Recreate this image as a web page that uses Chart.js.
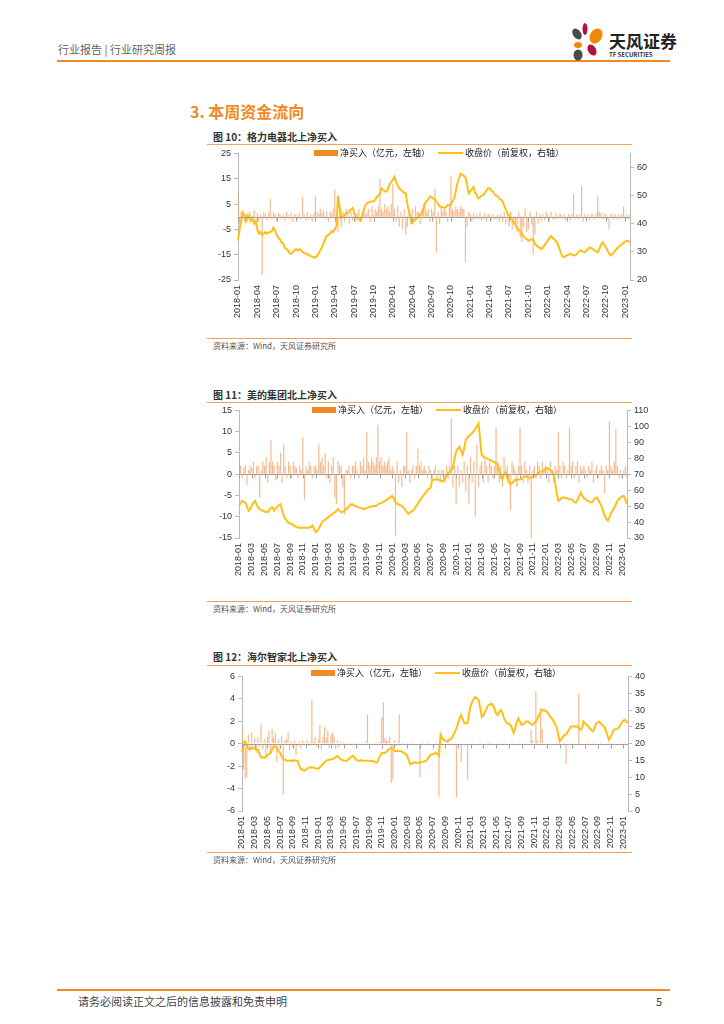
<!DOCTYPE html>
<html><head><meta charset="utf-8">
<script src="https://cdn.jsdelivr.net/npm/chart.js@4"></script>
<style>
html,body{margin:0;padding:0;background:#fff;}
body{width:724px;height:1024px;position:relative;overflow:hidden;font-family:"Noto Sans CJK SC","Noto Sans",sans-serif;}
.abs{position:absolute;white-space:nowrap;}
.hline{position:absolute;height:0;}
.cap{font-size:10px;font-weight:bold;color:#333;}
.src{font-size:8px;color:#555;}
.leg{font-size:9px;color:#222;}
.cw{position:absolute;}
</style></head><body>
<div class="abs" style="left:58px;top:41px;font-size:11px;color:#666;">行业报告 | 行业研究周报</div>
<div class="hline" style="left:57px;top:60px;width:613px;border-top:2px solid #F08A24;"></div>
<svg class="abs" style="left:568px;top:20px" width="40" height="42" viewBox="0 0 40 42">
<ellipse cx="9" cy="14" rx="4" ry="6" fill="#4a4a4a" transform="rotate(-35 9 14)"/>
<ellipse cx="17" cy="9" rx="2.5" ry="6" fill="#B0123B"/>
<ellipse cx="28" cy="16" rx="6" ry="8" fill="#F08A00" transform="rotate(30 28 16)"/>
<ellipse cx="10" cy="25" rx="4" ry="3" fill="#F08A00"/>
<ellipse cx="24" cy="30" rx="4" ry="6" fill="#B0123B" transform="rotate(-30 24 30)"/>
<ellipse cx="10" cy="35" rx="4.5" ry="5.5" fill="#4a4a4a"/>
</svg>
<div class="abs" style="left:609px;top:28px;font-size:17px;font-weight:bold;color:#222;letter-spacing:0px;">天风证券</div>
<div class="abs" style="left:609px;top:50px;font-size:6px;font-weight:bold;color:#333;">TF SECURITIES</div>

<div class="abs" style="left:190px;top:99px;font-size:16px;color:#F08A24;font-weight:bold;">3. 本周资金流向</div>

<div class="abs cap" style="left:213px;top:129px;">图 10：格力电器北上净买入</div>
<div class="hline" style="left:207px;top:144px;width:425px;border-top:1px solid #F5A05A;"></div>
<div class="cw" style="left:205px;top:145px;width:455px;height:177px;"><canvas id="c1" width="455" height="177"></canvas></div>
<div class="hline" style="left:207px;top:338px;width:425px;border-top:1px solid #F5A05A;"></div>
<div class="abs src" style="left:213px;top:340px;">资料来源：Wind，天风证券研究所</div>

<div class="abs cap" style="left:213px;top:387px;">图 11：美的集团北上净买入</div>
<div class="hline" style="left:207px;top:402px;width:425px;border-top:1px solid #F5A05A;"></div>
<div class="cw" style="left:206px;top:402px;width:451px;height:178px;"><canvas id="c2" width="451" height="178"></canvas></div>
<div class="hline" style="left:207px;top:601px;width:425px;border-top:1px solid #F5A05A;"></div>
<div class="abs src" style="left:213px;top:603px;">资料来源：Wind，天风证券研究所</div>

<div class="abs cap" style="left:213px;top:649px;">图 12：海尔智家北上净买入</div>
<div class="hline" style="left:207px;top:665px;width:425px;border-top:1px solid #F5A05A;"></div>
<div class="cw" style="left:209px;top:668px;width:449px;height:185px;"><canvas id="c3" width="449" height="185"></canvas></div>
<div class="hline" style="left:207px;top:852px;width:425px;border-top:1px solid #F5A05A;"></div>
<div class="abs src" style="left:213px;top:854px;">资料来源：Wind，天风证券研究所</div>

<div class="hline" style="left:57px;top:989px;width:613px;border-top:2px solid #F08A24;"></div>
<div class="abs" style="left:78px;top:993px;font-size:11px;color:#444;">请务必阅读正文之后的信息披露和免责申明</div>
<div class="abs" style="left:656px;top:993px;font-size:11px;color:#444;">5</div>

<div id="legs"></div>
<script>
// ---- data (4 samples per month, 2018-01 .. 2023-01) ----
const startYear = 2018, monthCount = 61, perMonth = 4;
const barLabel = "净买入（亿元，左轴）";
const lineLabel = "收盘价（前复权，右轴）";

const greeNet = [
 9,-3,2,1.5, -2,1,-1.5,2, 1,-1,2.5,-0.5, 1.5,-2,1,-23, 2,1,-1.5,1.5, 7,-1,2,1,
 -2,1.5,1,-1, 1,-1.5,2,1, -1,1.5,-2,1, 1,-1,1.5,-1, 8,1,-1.5,2, -1,1,-2,1.5,
 8,2,1,3, 1.5,2.5,-1,2, -2,2,1.5,3, 10.5,-3,-6,4, -4,2,-2,3, 1,-3,2,-1.5,
 2,-2,1.5,3, -1.5,2,3,1, 2,3,-2,4, 1,3,2,4, 15,3,2,5, 3,4,2,5,
 13,3,-2,4, -4,2,-5,3, -7,-4,2,-3, 3,-2,4,2, 2,-3,3,5, 4,2,3,-2,
 3,2,11,-14, 2,-3,4,2, 3,2,-2,4, 16,3,2,4, 3,2,4,3, 3,-18,-4,2,
 1,-2,1.5,-1, 1,-1,2,-1.5, -1,1.5,-2,1, 1,-1.5,1,-1, -1,1,-2,1, -2,2,-3,1,
 -4,2,-5,-3, -3,-6,2,-8, -10,-4,3,-6, -5,2,-3,-15, -7,2,-3,1, -2,1,-1.5,2,
 1,-2,2,-1, -1,1.5,-1,1, 1,-1,1,-1.5, -1,1,-1.5,1, 9,-1,1,-1, 1,12,-2,1,
 -1,1,-1.5,1, 1,-1,1.5,8, 2,1.5,-1,1, 1,-1,-5,1, 1,-1,1,-1, 1,-1,1,4,
 -1,1,-1,1];
const greeClose = [
 34,38,41,44, 43,41,43,42, 41,42,40,41, 38,36.5,37,36, 36.5,37,36.5,37, 37,37.5,38.6,37.5,
 36,35,34.5,33.4, 33,31.5,31,30.5, 29.5,29.3,30,30.5, 31,30.5,31,30.5, 30,29.5,29.5,29, 29,28.5,28.3,28,
 28,28.5,29.5,30.5, 31.5,33,34.5,35.7, 36,36.5,37.4,37, 38,39,50,46, 42,42.5,43,43.8, 43.8,44.5,45,45.6,
 44,42.7,42,41.5, 41,43,45,46.5, 47.3,47.5,47.8,47.9, 47.9,48.5,49.5,50, 50.8,52.6,52,51.5, 51.4,52.5,54,55,
 55.5,56.6,55,53.5, 52.6,52,51.5,51, 50.8,47,44.4,42, 40.3,41,41.5,42, 42.5,43.2,43.8,45.5, 47.3,48,48.8,49.7,
 49.5,49,48.6,47.8, 47,46.2,46,45.8, 45.6,46,46.7,46.5, 47,48,49,51.5, 54.3,56,57.8,57.5, 57,56.6,54,50.8,
 51.5,52.3,53,51, 50,49,49.5,50, 50.2,51,51.8,52.6, 52.6,51.8,51.4,50.5, 50,49.7,49,48.5, 47.9,46.5,45,43.8,
 43,42,41.2,40.5, 39.5,38.6,37.8,37, 36.3,35.5,35,34.5, 34,34.2,34.4,34.5, 33,32.2,31.8,31.5, 31,31.5,32.3,33.2,
 34,35,35.7,35, 34.5,34,33,31.5, 29.9,28.5,28.1,28.5, 28.8,29,29.3,29, 28.8,28.7,29.2,29.8, 30.5,30.3,30,29.9,
 30.5,31,31.6,31.3, 31,30.5,30.2,29.9, 31,32.5,33.4,32.5, 31.6,30.5,29.5,28.7, 29.2,29.8,30.5,31.2, 31.8,32.2,32.8,33.2,
 33.6,34,33.8,33.4];

const mideaNet = [
 4,2,-1,1.5, 2,-2.5,1,2, 1.5,3,-1,2, 2,-5.5,1,3, 2,4,-2,3, 8,3,2,-1.5,
 3,2,5,-2, 7,2,-1,3, 2,-1,3,2, 1.5,-1,2,1, 8.7,-6,2,1, 3,2,-1,2,
 2,1,7,3, 4,2,5,-1, 3,-2,2,4, -5.5,-7,3,2, 2,-3,-9.5,1, 1,2,-1,2,
 2,3,1,-1, 3,2,4,1, 10,3,2,4, 3,2,4,11.5, 3,4,2,3, 2,3,4,1,
 2,1,-14.5,3, -2,1,-3,2, 2,10,1,-2, 1,2,-1,2, 6,2,3,1, 2,1,-1,2,
 1,-1,1,2, -1,1,-2,1, 1,-2,2,-1, 2,13,-3,2, -7,2,-3,1, -2,3,-4,2,
 -7,4,-2,3, -10,7,-3,2, 3,-2,4,2, -2,3,2,-1, 2,11,3,-2, 2,-3,4,1,
 2,-1,-8.5,3, 2,1,-3,2, 11,2,-2,3, 1,-2,2,-15, 1,2,-1,3, 2,-1,3,1,
 2,1,-2,3, 1,-2,2,1, 10,2,-1,3, 2,-1,1,11, 2,3,-1,2, 3,-2,2,1,
 2,1,-1,2, 1,3,-2,1, 2,-1,1,2, 1,-4.5,2,1, 12.5,2,1,3, 10.5,2,-1,1,
 -1,1,2,-1];
const mideaClose = [
 50,52,53.3,52.5, 52.3,50,47.1,48, 50.2,52,53.3,51, 49.2,48,47.5,47.1, 46.5,46.5,46.1,47.5, 49,49.2,47.1,48.5,
 49.5,50.5,51.2,47.5, 44,42,40.9,39.5, 39,38.9,38,37.5, 36.8,36.6,36.5,36.4, 36.4,36.4,36.4,36.4, 36.4,37,37.8,36,
 33.7,34.5,35.8,38, 39.9,41,41.5,42.5, 43,44,44.5,45.5, 46.1,47,48.1,47, 46.1,46.5,47,48, 49,50,51,51.2,
 50.5,50,49.5,49.2, 49,48.5,48.1,48.5, 49,49.2,49.5,49.8, 50,50,50.2,51, 51.5,52,52.3,53, 53.5,54.3,55,55.8,
 56.4,55,52.3,51.5, 51,50.5,50.2,49, 48,46.5,45.1,45.8, 46.5,47.1,48.5,50, 51.5,53.3,54.5,56, 57.4,58.5,60,61,
 61.5,66.7,66.5,66.7, 66.7,66.5,66,65.8, 65.7,67,69,70.8, 71.5,72.5,73.9,80, 84.2,86,87.3,85, 82.2,86,91.4,93,
 94,95,95.6,97, 98.7,100,101.8,92, 82.2,81,80.5,80.1, 79.5,79,78.5,78, 77.5,76.5,76,72, 68,66.7,70,70.8,
 68,65,63.6,64.5, 65.5,66.7,66.5,66.7, 66.7,67,68,68.5, 68.8,68,67.7,68, 68.5,68.8,69.5,70.5, 71,71.5,71.9,72.5,
 73.5,73.9,73,72.5, 71.9,70,64.6,58, 53.3,54,55,55.4, 55.4,55,54.6,54.3, 54.3,53.5,52.5,52.3, 54,56,58.5,56.5,
 55,54.3,53.5,53, 52.5,52.3,53.5,55, 55.4,54,52,50.2, 47,44,42,40.9, 43,45.5,47.1,49, 51,53.3,54.5,55.4,
 56.2,56.4,54,51.2];

const haierNet = [
 1.5,-2.3,-3.1,-3, 0.8,-0.6,1,-0.4, 0.5,-0.8,0.6,-0.3, 1.8,-0.5,0.4,-1.2, 0.6,1.2,-0.7,1.3, 0.5,1,-1.6,0.4,
 -0.5,0.7,-4.5,0.3, 0.4,1,-0.6,0.2, -0.3,0.3,-1,-0.2, 0.2,-0.4,0.3,0.1, 0.1,0.3,-0.2,0.2, 3.9,0.2,0.6,-0.3,
 0.4,1.7,-0.5,0.6, 1.5,0.5,1.2,-0.4, 0.8,1,0.6,-0.5, 0.3,-0.3,0.2,0.1, 0.1,-0.1,0.1,0, 0.1,0,-0.1,0.1,
 0,0.1,0,-0.1, 0.1,0,0.2,2.6, 0.1,-0.1,0,0.1, 0,0.1,0,0.2, 2.4,3.7,0.5,0.3, 0.2,0.6,-3.5,-3.2,
 0.3,-0.2,0.1,2.6, 0,0.1,0,-0.1, 0.1,0,0,0.1, 0,-0.1,0,0, -3,0,0.1,0, 0,0.1,0,0,
 0,0,0.1,0, -4.7,0,0.1,0, 0,0,0.1,0, 0,0,0,-4.8, 0,0,-1.6,0, 0,0,-3.2,0,
 0,0.1,0,0, 0,0,0.1,0, 0,0,0,0.1, 0,0.1,0,0, 0,0,0.1,0, 0,0.1,0,0,
 0,0,0.1,0, 0,0,0,0.1, 0,0.1,0,0, 0,0,1.2,0.3, 0,4.7,0.3,0, 3.2,1.3,0,0,
 0,0.1,0,0, 0,0,0.1,0, 0,0,0,0.1, -1.8,0,0,0, 0,0.1,0,0, 4.5,0,0,0,
 0,0,0.1,0, 0,0.1,0,0, 0,0,0.1,0, 0,0,0,0.1, 0,0.1,0,0, 0,0,0.1,0,
 0,0.1,0,0];
const haierClose = [
 17.3,20.2,20.7,19.5, 18.5,18.3,18.8,18.6, 18.5,18.3,18.3,17, 15.9,15.9,16,15.9, 16.5,17,17.3,18.2, 19.3,19.1,18.8,17.8,
 17.3,16.2,15.4,15.2, 15,14.9,14.9,15, 14.9,15.1,14.9,14.9, 13.5,12.5,12.3,12, 12.2,12.6,12.9,13, 12.9,12.9,12.7,12.6,
 12.5,13,13.5,13.9, 14.5,14.9,15.1,15.2, 15.4,15.4,15.6,16, 16.4,16,15.4,15.2, 15,14.9,14.9,15.3, 15.8,16.2,16.4,15.8,
 15.2,14.9,14.9,15.1, 14.9,14.9,14.9,15, 14.9,14.8,14.9,14.7, 14.5,14.4,15.5,16.5, 17.3,17.2,17.3,17.6, 18.2,18.5,18.8,18.3,
 17.8,17.8,17.9,17.8, 17.8,17.6,17.2,16.9, 16.4,15,13.9,14.2, 14.4,14.4,14.3,14.4, 14.4,14.5,14.6,14.8, 14.9,15.6,16.3,16.8,
 16.8,17,17.3,17, 16.4,22.7,21.7,21.2, 20.9,20.7,21,21.3, 21.7,22.5,23.5,24.6, 26,27.5,28.5,27.2, 26.1,26.1,26.1,29,
 31.4,32.5,33.5,33.9, 33.4,32.9,30.5,28, 28.5,29.5,30.5,31.4, 31.6,31.9,31.5,30.2, 29,28.5,29.5,30, 29,27.5,26.6,26,
 25.8,25.6,24.5,23.2, 24.5,26.5,27.5,26.5, 25.6,25.8,26.2,26.6, 26.6,26.2,25.8,25.6, 26.2,26.6,27.5,28.5, 29.5,30,30,29.8,
 29.5,28.8,28,27.5, 26.8,25.8,25.1,23, 20.7,21.3,22,22.7, 22.7,23.5,24.3,25.1, 25.1,25.2,25.1,25.1, 24.8,24.1,24.5,26.6,
 26,25.6,25.1,24.5, 24,23.7,24.8,26, 26.3,26.6,26,25.4, 25.1,24,22.5,21.2, 22,23,24.1,24.3, 24.4,24.6,25.5,26.3,
 26.8,27.1,26.6,26.1];

// axis settings per chart
const greeLeft = {min:-25,max:25,step:10}, greeRight = {min:20,max:65,step:10};
const mideaLeft = {min:-15,max:15,step:5}, mideaRight = {min:30,max:110,step:10};
const haierLeft = {min:-6,max:6,step:2}, haierRight = {min:0,max:40,step:5};
const greeTickEvery = 3, mideaTickEvery = 2, haierTickEvery = 2;

// ---- build labels ----
const months = [];
for (let i = 0; i < monthCount; i++) {
  const y = startYear + Math.floor(i / 12), m = i % 12 + 1;
  months.push(y + "-" + String(m).padStart(2, "0"));
}
const labels = [];
months.forEach(mo => { for (let w = 0; w < perMonth; w++) labels.push(mo + "#" + w); });

const FONT = "Liberation Sans";
const zeroTicks = {
  id: "zeroTicks",
  afterDatasetsDraw(chart, args, opts) {
    const x = chart.scales.x, y = chart.scales.y, ctx = chart.ctx;
    const idx = (opts && opts.idx) || [];
    const y0 = Math.round(y.getPixelForValue(0)) + 0.5;
    ctx.save();
    ctx.strokeStyle = "#a0a0a0"; ctx.lineWidth = 1;
    ctx.beginPath(); ctx.moveTo(chart.chartArea.left, y0); ctx.lineTo(chart.chartArea.right, y0); ctx.stroke();
    idx.forEach(i => {
      const px = Math.round(x.getPixelForValue(i)) + 0.5;
      ctx.beginPath(); ctx.moveTo(px, y0); ctx.lineTo(px, y0 + 4); ctx.stroke();
    });
    ctx.restore();
  }
};

function makeChart(id, net, close, left, right, every) {
  const tickIdx = [];
  labels.forEach((l, i) => { if (i % perMonth === 0 && (i / perMonth) % every === 0) tickIdx.push(i); });
  return new Chart(document.getElementById(id), {
    data: {
      labels: labels,
      datasets: [
        { type: "line", label: lineLabel, data: close, yAxisID: "y1", borderColor: "#FFBF14", borderWidth: 2,
          pointRadius: 0, tension: 0, order: 0 },
        { type: "bar", label: barLabel, data: net, yAxisID: "y", backgroundColor: "rgba(240,130,50,0.55)",
          barPercentage: 0.75, categoryPercentage: 1, order: 1 }
      ]
    },
    options: {
      responsive: false, animation: false, devicePixelRatio: 1,
      layout: { padding: { top: 6, right: 0, left: 0, bottom: 0 } },
      plugins: { legend: { display: false }, tooltip: { enabled: false }, zeroTicks: { idx: tickIdx } },
      scales: {
        x: {
          offset: false, grid: { display: false, drawTicks: false }, border: { display: false },
          afterFit(s) { s.height = 42; },
          ticks: { autoSkip: false, maxRotation: 90, minRotation: 90, padding: 5,
            font: { family: FONT, size: 9 }, color: "#333",
            callback(v, i) { return tickIdx.includes(i) ? months[i / perMonth] : ""; } }
        },
        y: {
          position: "left", min: left.min, max: left.max,
          afterFit(s) { s.width = 33; },
          grid: { drawOnChartArea: false, drawTicks: true, tickLength: 4, color: "#bbb" },
          border: { display: true, color: "#bbb" },
          ticks: { stepSize: left.step, font: { family: FONT, size: 9 }, color: "#333", padding: 3 }
        },
        y1: {
          position: "right", min: right.min, max: right.max,
          afterFit(s) { s.width = 30; },
          afterBuildTicks(s) { s.ticks = s.ticks.filter(t => (t.value - right.min) % right.step === 0); },
          grid: { drawOnChartArea: false, drawTicks: true, tickLength: 4, color: "#bbb" },
          border: { display: true, color: "#bbb" },
          ticks: { stepSize: right.step, font: { family: FONT, size: 9 }, color: "#333", padding: 3 }
        }
      }
    },
    plugins: [zeroTicks]
  });
}
makeChart("c1", greeNet, greeClose, greeLeft, greeRight, greeTickEvery);
makeChart("c2", mideaNet, mideaClose, mideaLeft, mideaRight, mideaTickEvery);
makeChart("c3", haierNet, haierClose, haierLeft, haierRight, haierTickEvery);

// legends (html)
const legPos = [[314, 153], [312, 410], [311, 673]];
let html = "";
legPos.forEach(([x, y]) => {
  html += `<div class="abs" style="left:${x}px;top:${y-3}px;width:24px;height:6px;background:#F08A24"></div>`;
  html += `<div class="abs leg" style="left:${x+26}px;top:${y-7}px">${barLabel}</div>`;
  html += `<div class="abs" style="left:${x+124}px;top:${y-1}px;width:25px;height:2px;background:#FFBF14"></div>`;
  html += `<div class="abs leg" style="left:${x+151}px;top:${y-7}px">${lineLabel}</div>`;
});
document.getElementById("legs").innerHTML = html;
</script>
</body></html>
